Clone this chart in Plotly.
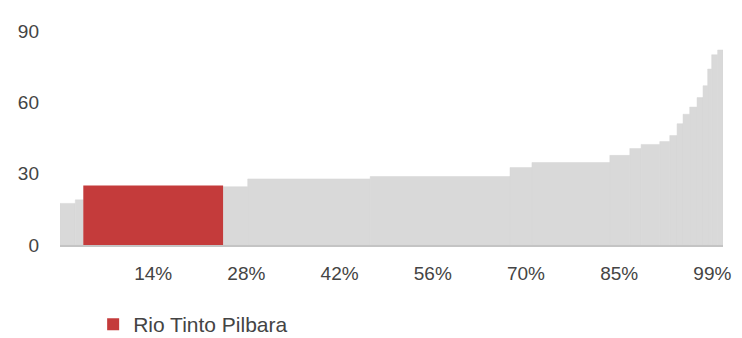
import numpy as np
import plotly.graph_objects as go

# Cost curve data: width = share of production (%), height = cost
widths = [2.3, 1.2, 21.0, 3.7, 18.4, 21.0, 3.3, 11.7, 3.0, 1.7, 2.8,
          1.5, 1.1, 0.9, 1.0, 1.1, 0.9, 0.7, 0.6, 0.9, 0.8]
heights = [17.5, 19, 25, 24.5, 27.8, 28.8, 32.6, 34.7, 37.7, 40.6, 42.3,
           43.5, 46, 51, 55, 58, 62, 67, 74, 80, 82]
producers = ["Other", "Other", "Rio Tinto Pilbara"] + ["Other"] * 18

highlight = "Rio Tinto Pilbara"
x_tickvals = [14, 28, 42, 56, 70, 84, 98]
x_ticktext = ["14%", "28%", "42%", "56%", "70%", "85%", "99%"]
y_tickvals = [0, 30, 60, 90]

w = np.array(widths)
h = np.array(heights)
right = np.cumsum(w)
centers = right - w / 2
mask = np.array([p == highlight for p in producers])

fig = go.Figure()
fig.add_trace(go.Bar(
    x=centers[~mask], y=h[~mask], width=w[~mask],
    marker=dict(color="#d9d9d9", line=dict(width=0.5, color="#d6d6d6")),
    showlegend=False, name="Other",
))
fig.add_trace(go.Bar(
    x=centers[mask], y=h[mask], width=w[mask],
    marker=dict(color="#c43b3b", line=dict(width=0)),
    showlegend=True, name=highlight,
))

fig.update_layout(
    width=742, height=338,
    margin=dict(l=60, r=19, t=31, b=93),
    paper_bgcolor="white", plot_bgcolor="white",
    barmode="overlay",
    font=dict(family="Liberation Sans, Arial, sans-serif", size=19, color="#444444"),
    xaxis=dict(
        range=[0, right[-1]],
        tickvals=x_tickvals, ticktext=x_ticktext,
        showgrid=False, zeroline=False,
        showline=True, linecolor="#c4c4c4", linewidth=2,
        ticks="", ticklabelstandoff=10,
        tickfont=dict(size=19, color="#444444"),
    ),
    yaxis=dict(
        range=[0, 90], tickvals=y_tickvals,
        showgrid=False, zeroline=False, showline=False,
        ticks="", ticklabelstandoff=20,
        tickfont=dict(size=19, color="#444444"),
    ),
    legend=dict(
        orientation="h",
        x=0.05, xanchor="left",
        yref="container", y=0.04, yanchor="middle",
        font=dict(size=21, color="#444444"),
        bgcolor="rgba(0,0,0,0)",
    ),
)

fig.write_html("out.html")
